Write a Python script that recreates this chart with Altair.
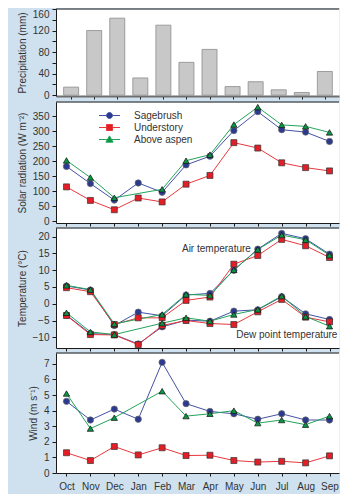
import json
import altair as alt
import pandas as pd

months = ["Oct", "Nov", "Dec", "Jan", "Feb", "Mar", "Apr", "May", "Jun", "Jul", "Aug", "Sep"]
series_names = ["Sagebrush", "Understory", "Above aspen"]

precip = [15, 120, 143, 32, 130, 61, 85, 16, 25, 10, 5, 44]

solar_sage = [183, 126, 71, 128, 97, 188, 217, 302, 365, 305, 297, 266]
solar_under = [115, 70, 39, 78, 65, 124, 153, 262, 244, 195, 179, 168]
solar_aspen = [203, 146, 79, None, 107, 202, 222, 322, 380, 321, 316, 296]

air_sage = [5.3, 4.1, -6.5, -2.5, -3.6, 2.6, 3.1, 10.0, 16.3, 21.0, 19.4, 14.8]
air_under = [4.8, 3.6, -6.2, -4.2, -4.2, 1.0, 2.0, 11.8, 14.4, 19.2, 17.3, 13.8]
air_aspen = [5.5, 4.2, -6.0, None, -3.2, 2.8, 2.5, 10.1, 16.2, 20.5, 19.1, 14.5]

dew_sage = [-3.4, -8.9, -9.2, -12.0, -6.9, -4.9, -5.2, -2.2, -1.8, 2.1, -3.0, -4.7]
dew_under = [-3.5, -9.2, -9.3, -12.2, -6.5, -5.0, -5.9, -6.2, -2.4, 1.3, -4.0, -5.4]
dew_aspen = [-2.7, -8.4, -9.2, None, -5.8, -4.2, -5.2, -3.2, -1.7, 2.3, -3.8, -6.7]

wind_sage = [4.6, 3.4, 4.1, 3.45, 7.1, 4.45, 3.95, 3.8, 3.45, 3.8, 3.4, 3.4]
wind_under = [1.3, 0.8, 1.7, 1.16, 1.62, 1.12, 1.14, 0.8, 0.7, 0.75, 0.65, 1.1]
wind_aspen = [5.1, 2.85, 3.55, None, 5.25, 3.65, 3.8, 4.0, 3.2, 3.4, 3.1, 3.65]

annot_text = ["Air temperature", "Dew point temperature"]
annot_idx = [4.83, 7.1]
annot_val = [16.4, -9.4]

BG = "#cfe1ef"
FONT = "Liberation Sans"
TEXT = "#333333"
EDGE = "#1a1a1a"
W = 283
X_DOMAIN = [-0.439, 11.397]

line_colors = ["#4352a5", "#e8383d", "#22a45a"]
fill_colors = ["#2b3990", "#e31e26", "#0b9444"]
edge_colors = ["#666666", "#333333", "#111111"]
shapes = ["circle", "square", "triangle-up"]
sizes = [40, 36, 40]
legend_paths = [
    "M-1.75,0H-0.5M0.5,0H1.75M-0.5,0A0.5,0.5,0,1,0,0.5,0A0.5,0.5,0,1,0,-0.5,0Z",
    "M-1.75,0H-0.5M0.5,0H1.75M-0.5,-0.5H0.5V0.5H-0.5Z",
    "M-1.75,0H-0.34M0.34,0H1.75M0,-0.6L0.6,0.45H-0.6Z",
]


def long_df(groups):
    rows = []
    for kind, arrays in groups:
        for s, arr in zip(series_names, arrays):
            for i, v in enumerate(arr):
                if v is not None:
                    rows.append({"idx": i, "month": months[i], "series": s, "kind": kind, "value": v})
    return pd.DataFrame(rows)


def x_enc(show_labels, domain_color=EDGE, domain_width=1):
    return alt.X(
        "idx:Q",
        scale=alt.Scale(domain=X_DOMAIN, nice=False, zero=False),
        axis=alt.Axis(
            values=list(range(12)),
            labels=show_labels,
            labelExpr=json.dumps(months) + "[datum.value]",
            title=None,
            tickSize=3,
            labelPadding=5,
            domainColor=domain_color,
            domainWidth=domain_width,
        ),
    )


def y_enc(title, domain, ticks, flush=None):
    kw = dict(values=ticks, title=title, tickSize=4, labelPadding=3, titlePadding=5)
    if flush is not None:
        kw["labelFlush"] = flush
    return alt.Y("value:Q", scale=alt.Scale(domain=domain, nice=False, zero=False), axis=alt.Axis(**kw))


def top_border():
    return alt.Chart(pd.DataFrame({"z": [0]})).mark_rule(color=EDGE, strokeWidth=1).encode(
        x=alt.value(0), x2=alt.value(W), y=alt.value(0)
    )


def series_layers(df, X, Y):
    layers = [
        alt.Chart(df).mark_line(strokeWidth=1).encode(
            x=X, y=Y,
            color=alt.Color("series:N", scale=alt.Scale(domain=series_names, range=line_colors), legend=None),
            detail="kind:N",
        )
    ]
    for s, shp, fc, ec, sz in zip(series_names, shapes, fill_colors, edge_colors, sizes):
        layers.append(
            alt.Chart(df).transform_filter(alt.datum.series == s).mark_point(
                shape=shp, filled=True, fill=fc, stroke=ec, strokeWidth=0.7, size=sz, opacity=1
            ).encode(x=X, y=Y)
        )
    return layers


# Panel 1: precipitation
pdf = pd.DataFrame({"idx": list(range(12)), "month": months, "value": precip})
X1 = x_enc(False, domain_color="#6e6e6e", domain_width=2)
Y1 = y_enc("Precipitation (mm)", [-1.5, 160], list(range(0, 161, 20)), flush=0.5)
p1 = alt.layer(
    alt.Chart(pdf).mark_bar(size=15, fill="#c8c8c8", stroke="#8c8c8c", strokeWidth=0.8).encode(x=X1, y=Y1),
    top_border(),
).properties(width=W, height=87)

# Panel 2: solar radiation (its legend is placed in concat coordinates, i.e. from panel 1's origin)
sdf = long_df([("solar", [solar_sage, solar_under, solar_aspen])])
X2 = x_enc(False)
Y2 = y_enc("Solar radiation (W m\u207b\u00b2)", [-5, 397], list(range(0, 351, 50)))
leg = alt.Legend(
    title=None, orient="none", legendX=47, legendY=100, symbolSize=144, symbolStrokeWidth=1,
    symbolOpacity=1, labelOffset=18, rowPadding=0, labelFontSize=10, labelColor=TEXT,
    labelFont=FONT, padding=0,
)
legend_layer = alt.Chart(sdf).mark_point(filled=True, opacity=0, strokeWidth=1).encode(
    x=X2, y=Y2,
    shape=alt.Shape("series:N", scale=alt.Scale(domain=series_names, range=legend_paths), legend=leg),
    fill=alt.Fill("series:N", scale=alt.Scale(domain=series_names, range=fill_colors), legend=leg),
    stroke=alt.Stroke("series:N", scale=alt.Scale(domain=series_names, range=line_colors), legend=leg),
)
p2 = alt.layer(legend_layer, *series_layers(sdf, X2, Y2), top_border()).properties(width=W, height=121)

# Panel 3: temperature
tdf = long_df([("air", [air_sage, air_under, air_aspen]), ("dew", [dew_sage, dew_under, dew_aspen])])
X3 = x_enc(False)
Y3 = y_enc("Temperature (\u00b0C)", [-13.2, 22.6], list(range(-10, 21, 5)))
adf = pd.DataFrame({"idx": annot_idx, "value": annot_val, "text": annot_text})
annots = alt.Chart(adf).mark_text(align="left", baseline="middle", fontSize=10, color=TEXT, font=FONT).encode(
    x=X3, y=Y3, text="text:N"
)
p3 = alt.layer(*series_layers(tdf, X3, Y3), annots, top_border()).properties(width=W, height=120)

# Panel 4: wind
wdf = long_df([("wind", [wind_sage, wind_under, wind_aspen])])
X4 = x_enc(True)
Y4 = y_enc("Wind (m s\u207b\u00b9)", [0, 7.7], list(range(0, 8)))
p4 = alt.layer(*series_layers(wdf, X4, Y4), top_border()).properties(width=W, height=120)

chart = (
    alt.vconcat(p1, p2, p3, p4, spacing=0)
    .properties(padding={"left": 8, "top": 0, "right": 0, "bottom": 2}, background=BG)
    .configure(font=FONT)
    .configure_view(stroke="transparent", fill="white")
    .configure_axis(
        labelFont=FONT, titleFont=FONT, labelFontSize=10, titleFontSize=10, titleFontWeight="normal",
        labelColor=TEXT, titleColor=TEXT, domainColor=EDGE, tickColor=EDGE, grid=False,
    )
    .configure_legend(labelFont=FONT)
)

chart.save("out.html", embed_options={"renderer": "svg", "actions": False})
